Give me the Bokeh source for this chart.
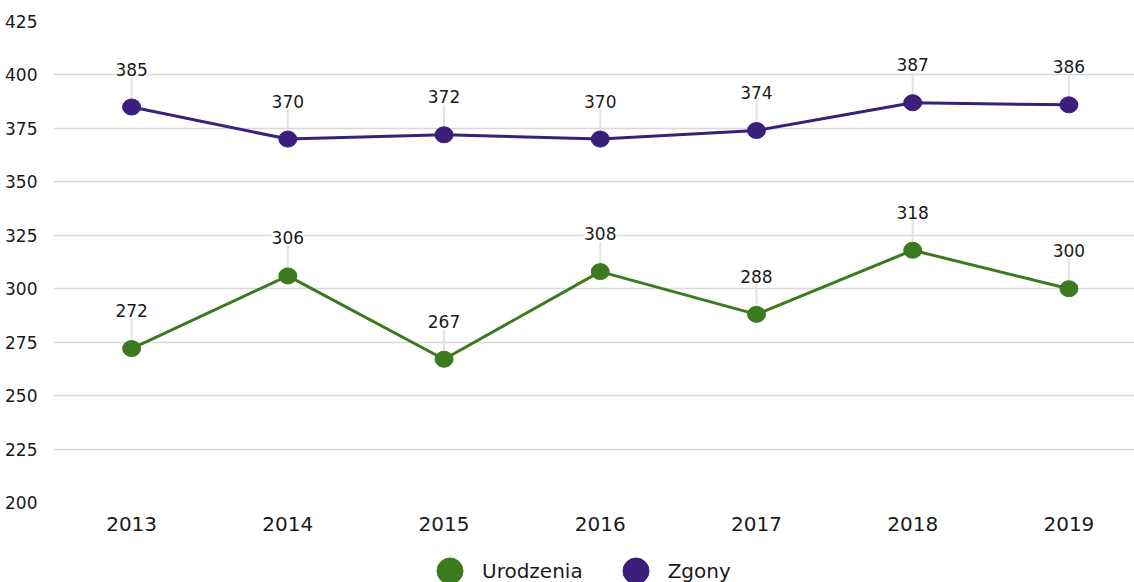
from bokeh.plotting import figure
from bokeh.layouts import column
from bokeh.models import ColumnDataSource, LabelSet, Legend, LegendItem, Range1d, FixedTicker
from bokeh.core.properties import value
from bokeh.embed import file_html
from bokeh.resources import INLINE
import numpy as np

years = [2013, 2014, 2015, 2016, 2017, 2018, 2019]
year_labels = ["2013", "2014", "2015", "2016", "2017", "2018", "2019"]
urodzenia = [272, 306, 267, 308, 288, 318, 300]
zgony = [385, 370, 372, 370, 374, 387, 386]
y_ticks = [200, 225, 250, 275, 300, 325, 350, 375, 400, 425]
series_names = ["Urodzenia", "Zgony"]
series_colors = ["#3b7a1f", "#3a1f7b"]

FONT = "DejaVu Sans"

p = figure(width=1134, height=536,
           x_range=Range1d(2012.5, 2019.42), y_range=Range1d(200, 425),
           output_backend="svg", toolbar_location=None,
           min_border_left=53, min_border_right=0, min_border_top=21, min_border_bottom=34)
p.outline_line_color = None
p.background_fill_color = "white"
p.border_fill_color = "white"

p.xgrid.grid_line_color = None
p.ygrid.grid_line_color = "#d9d9d9"
p.ygrid.grid_line_width = 1.5

p.yaxis.ticker = FixedTicker(ticks=y_ticks)
p.xaxis.ticker = FixedTicker(ticks=years)
p.xaxis.major_label_overrides = {y: l for y, l in zip(years, year_labels)}
for ax in (p.xaxis, p.yaxis):
    ax.axis_line_color = None
    ax.major_tick_line_color = None
    ax.minor_tick_line_color = None
    ax.major_label_text_font = FONT
    ax.major_label_text_color = "#1a1a1a"
p.yaxis.major_label_text_font_size = "17px"
p.yaxis.major_label_standoff = 10
p.xaxis.major_label_text_font_size = "20px"
p.xaxis.major_label_standoff = 8

# legend strip below the chart
p2 = figure(width=1134, height=46, x_range=Range1d(0, 1), y_range=Range1d(0, 1),
            output_backend="svg", toolbar_location=None,
            x_axis_type=None, y_axis_type=None,
            min_border_left=53, min_border_right=0, min_border_top=0, min_border_bottom=0)
p2.outline_line_color = None
p2.xgrid.grid_line_color = None
p2.ygrid.grid_line_color = None

legend_items = []
for name, vals, color in zip(series_names, [urodzenia, zgony], series_colors):
    v = np.array(vals, dtype=float)
    src = ColumnDataSource(dict(x=years, y=v, y1=v + 14.0, txt=[str(int(a)) for a in vals]))
    p.segment(x0="x", y0="y", x1="x", y1="y1", source=src, line_color="#e3e3e3", line_width=2)
    p.line(x="x", y="y", source=src, line_color=color, line_width=3)
    p.ellipse(x="x", y="y", width=18, height=16, width_units="screen", height_units="screen",
              source=src, fill_color=color, line_color=color)
    labels = LabelSet(x="x", y="y", text="txt", source=src, y_offset=38,
                      text_align="center", text_baseline="middle",
                      text_font=value(FONT), text_font_size="17px", text_color="#1a1a1a",
                      background_fill_color="white")
    p.add_layout(labels)
    # legend markers (data lies outside the strip's ranges, so only the legend shows them)
    sw = p2.scatter(x="x", y="y", source=src, marker="circle", size=26,
                    fill_color=color, line_color=color)
    legend_items.append(LegendItem(label=name, renderers=[sw]))

legend = Legend(items=legend_items, location=(364, -21), orientation="horizontal",
                glyph_width=65, glyph_height=65, padding=0, margin=0, spacing=20,
                label_standoff=-10, border_line_color=None, background_fill_alpha=0,
                label_text_font=FONT, label_text_font_size="20px", label_text_color="#1a1a1a")
p2.add_layout(legend)

layout = column(p, p2, spacing=0)
open("out.html", "w").write(file_html(layout, INLINE))
